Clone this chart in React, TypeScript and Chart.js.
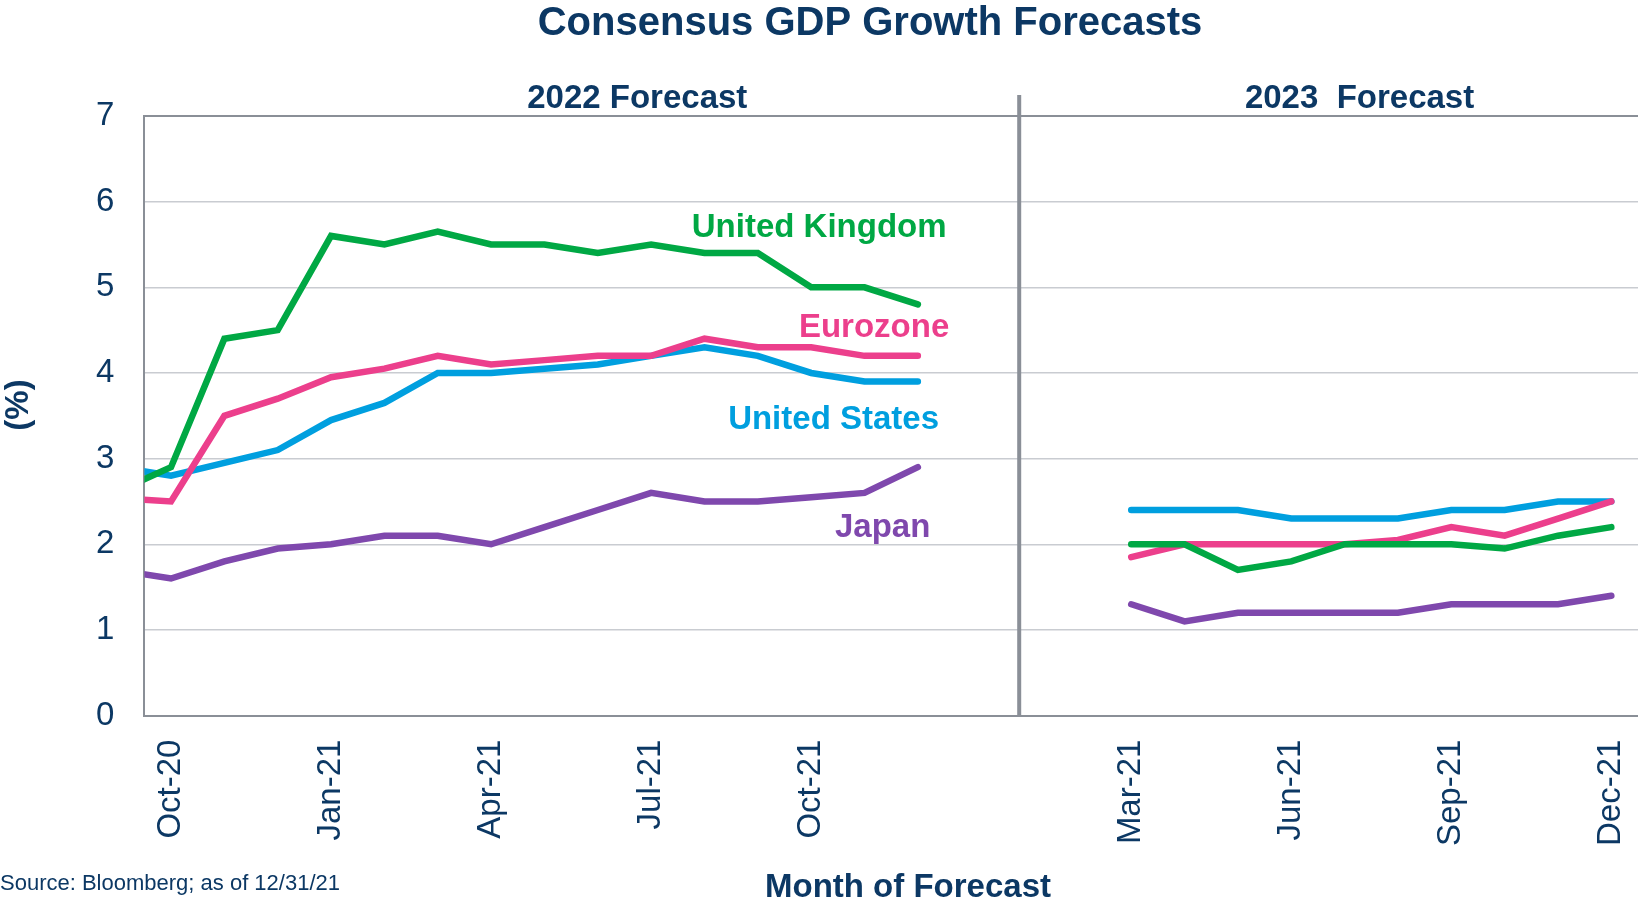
import React, { useEffect, useRef } from 'react';
import { Chart, registerables } from 'chart.js';

Chart.register(...registerables);

// ---------- DATA ----------
const leftMonths = ['Sep-20', 'Oct-20', 'Nov-20', 'Dec-20', 'Jan-21', 'Feb-21', 'Mar-21', 'Apr-21', 'May-21', 'Jun-21', 'Jul-21', 'Aug-21', 'Sep-21', 'Oct-21', 'Nov-21', 'Dec-21'];
const rightMonths = ['Mar-21', 'Apr-21', 'May-21', 'Jun-21', 'Jul-21', 'Aug-21', 'Sep-21', 'Oct-21', 'Nov-21', 'Dec-21'];

const leftTickLabels = ['Oct-20', 'Jan-21', 'Apr-21', 'Jul-21', 'Oct-21'];
const rightTickLabels = ['Mar-21', 'Jun-21', 'Sep-21', 'Dec-21'];

const seriesNames = ['United Kingdom', 'Eurozone', 'United States', 'Japan'];

// 2022 forecasts (left panel)
const uk2022 = [2.62, 2.9, 4.4, 4.5, 5.6, 5.5, 5.65, 5.5, 5.5, 5.4, 5.5, 5.4, 5.4, 5.0, 5.0, 4.8];
const ez2022 = [2.54, 2.5, 3.5, 3.7, 3.95, 4.05, 4.2, 4.1, 4.15, 4.2, 4.2, 4.4, 4.3, 4.3, 4.2, 4.2];
const us2022 = [2.9, 2.8, 2.95, 3.1, 3.45, 3.65, 4.0, 4.0, 4.05, 4.1, 4.2, 4.3, 4.2, 4.0, 3.9, 3.9];
const jp2022 = [1.7, 1.6, 1.8, 1.95, 2.0, 2.1, 2.1, 2.0, 2.2, 2.4, 2.6, 2.5, 2.5, 2.55, 2.6, 2.9];

// 2023 forecasts (right panel)
const uk2023 = [2.0, 2.0, 1.7, 1.8, 2.0, 2.0, 2.0, 1.95, 2.1, 2.2];
const ez2023 = [1.85, 2.0, 2.0, 2.0, 2.0, 2.05, 2.2, 2.1, 2.3, 2.5];
const us2023 = [2.4, 2.4, 2.4, 2.3, 2.3, 2.3, 2.4, 2.4, 2.5, 2.5];
const jp2023 = [1.3, 1.1, 1.2, 1.2, 1.2, 1.2, 1.3, 1.3, 1.3, 1.4];

// ---------- STYLE / LAYOUT ----------
const NAVY = '#0c3864';
const COLORS = ['#00a844', '#ec3f8c', '#009fdf', '#7f48ad'];
const GRID = '#c9ccd1';
const AXIS = '#8a8f97';
const FONT = '"Liberation Sans", Arial, Helvetica, sans-serif';

// slot positions along the shared month axis
const LEFT_OFFSET = -1; // Sep-20 sits half a slot left of the axis edge
const RIGHT_OFFSET = 18;
const X_MIN = -0.5;
const X_MAX = 27.5;
const DIVIDER_X = 15.9;

const leftSeries = [uk2022, ez2022, us2022, jp2022];
const rightSeries = [uk2023, ez2023, us2023, jp2023];

const tickDefs = [
  ...leftTickLabels.map((l) => ({ value: leftMonths.indexOf(l) + LEFT_OFFSET, label: l })),
  ...rightTickLabels.map((l) => ({ value: rightMonths.indexOf(l) + RIGHT_OFFSET, label: l })),
];

// label anchor positions in axis units (x slot, y value)
const seriesLabelPos = [
  { x: 12.15, y: 5.59 },
  { x: 13.18, y: 4.42 },
  { x: 12.42, y: 3.35 },
  { x: 13.34, y: 2.08 },
];

const textPlugin = {
  id: 'customText',
  afterDatasetsDraw(chart: any) {
    const { ctx, chartArea, scales } = chart;
    const xs = scales.x;
    const ys = scales.y;
    ctx.save();
    // divider between panels
    const dx = xs.getPixelForValue(DIVIDER_X);
    ctx.strokeStyle = AXIS;
    ctx.lineWidth = 4;
    ctx.beginPath();
    ctx.moveTo(dx, 95);
    ctx.lineTo(dx, chartArea.bottom);
    ctx.stroke();

    // series labels
    ctx.font = `bold 33px ${FONT}`;
    ctx.textAlign = 'center';
    ctx.textBaseline = 'alphabetic';
    seriesNames.forEach((name, i) => {
      const p = seriesLabelPos[i];
      ctx.fillStyle = COLORS[i];
      ctx.fillText(name, xs.getPixelForValue(p.x), ys.getPixelForValue(p.y));
    });
    ctx.restore();
  },
  afterDraw(chart: any) {
    const { ctx, scales } = chart;
    const xs = scales.x;
    ctx.save();
    ctx.fillStyle = NAVY;
    ctx.textBaseline = 'alphabetic';
    ctx.textAlign = 'center';
    ctx.font = `bold 40px ${FONT}`;
    ctx.fillText('Consensus GDP Growth Forecasts', 870, 35);

    ctx.font = `bold 33px ${FONT}`;
    ctx.fillText('2022 Forecast', xs.getPixelForValue(8.74), 108);
    ctx.fillText('2023  Forecast', xs.getPixelForValue(22.28), 108);

    ctx.fillText('Month of Forecast', 908, 897);

    ctx.save();
    ctx.translate(19, 405);
    ctx.rotate(-Math.PI / 2);
    ctx.textBaseline = 'middle';
    ctx.fillText('(%)', 0, 0);
    ctx.restore();

    ctx.textAlign = 'left';
    ctx.font = `22px ${FONT}`;
    ctx.fillText('Source: Bloomberg; as of 12/31/21', 0, 890);
    ctx.restore();
  },
};

export default function App() {
  const canvasRef = useRef<HTMLCanvasElement | null>(null);

  useEffect(() => {
    const canvas = canvasRef.current;
    if (!canvas) return;

    const datasets: any[] = [];
    seriesNames.forEach((name, i) => {
      datasets.push({
        label: name + ' 2022',
        data: leftSeries[i].map((v, k) => ({ x: k + LEFT_OFFSET, y: v })),
        borderColor: COLORS[i],
        backgroundColor: COLORS[i],
        borderWidth: 6.5,
        pointRadius: 0,
        borderCapStyle: 'round',
        borderJoinStyle: 'miter',
        tension: 0,
        order: i,
      });
      datasets.push({
        label: name + ' 2023',
        data: rightSeries[i].map((v, k) => ({ x: k + RIGHT_OFFSET, y: v })),
        borderColor: COLORS[i],
        backgroundColor: COLORS[i],
        borderWidth: 6.5,
        pointRadius: 0,
        borderCapStyle: 'round',
        borderJoinStyle: 'miter',
        tension: 0,
        order: i,
      });
    });

    const chart = new Chart(canvas, {
      type: 'line',
      data: { datasets },
      options: {
        responsive: false,
        animation: false,
        layout: { padding: { left: 66, right: 0, top: 116, bottom: 61 } },
        plugins: {
          legend: { display: false },
          tooltip: { enabled: false },
          title: { display: false },
        },
        scales: {
          x: {
            type: 'linear',
            min: X_MIN,
            max: X_MAX,
            afterBuildTicks: (scale: any) => {
              scale.ticks = tickDefs.map((t) => ({ value: t.value }));
            },
            ticks: {
              autoSkip: false,
              minRotation: 90,
              maxRotation: 90,
              padding: 0,
              color: NAVY,
              font: { family: FONT, size: 33, lineHeight: 0.7 },
              callback: (v: any) => {
                const t = tickDefs.find((d) => d.value === v);
                return t ? t.label : '';
              },
            },
            grid: { display: false, drawTicks: true, tickLength: 24 },
            border: { display: true, color: AXIS, width: 2 },
          },
          y: {
            min: 0,
            max: 7,
            ticks: {
              stepSize: 1,
              padding: 30,
              color: NAVY,
              font: { family: FONT, size: 33 },
            },
            grid: {
              drawTicks: false,
              color: (c: any) => (c.tick && (c.tick.value === 7 || c.tick.value === 0) ? AXIS : GRID),
              lineWidth: (c: any) => (c.tick && (c.tick.value === 7 || c.tick.value === 0) ? 2 : 1.5),
            },
            border: { display: true, color: AXIS, width: 2 },
          },
        },
      },
      plugins: [textPlugin],
    });

    return () => {
      chart.destroy();
    };
  }, []);

  return (
    <div style={{ position: 'fixed', left: 0, top: 0, width: 1638, height: 907, background: '#ffffff' }}>
      <canvas ref={canvasRef} width={1638} height={907} style={{ display: 'block' }} />
    </div>
  );
}
